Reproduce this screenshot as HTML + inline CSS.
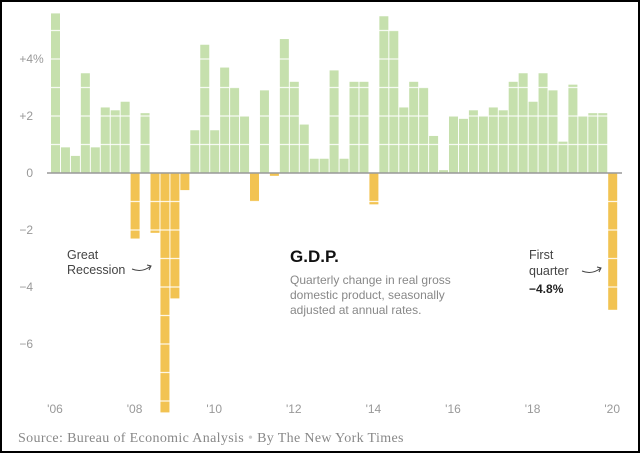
<!DOCTYPE html>
<html><head><meta charset="utf-8"><style>
html,body{margin:0;padding:0;background:#fff}
body{width:640px;height:453px;overflow:hidden}
#frame{position:absolute;left:0;top:0;width:636px;height:449px;border:2px solid #000;}
svg{position:absolute;left:0;top:0}
.t{font-family:"Liberation Sans",sans-serif}
</style></head><body>
<div id="frame"></div>
<svg id="chart" width="640" height="453"></svg>
<script>
const years = ["'06","'08","'10","'12","'14","'16","'18","'20"];
const yTicks = [4,2,0,-2,-4,-6];
const gdpValues = [5.6,0.9,0.6,3.5, 0.9,2.3,2.2,2.5, -2.3,2.1,-2.1,-8.4, -4.4,-0.6,1.5,4.5,
 1.5,3.7,3.0,2.0, -1.0,2.9,-0.1,4.7, 3.2,1.7,0.5,0.5, 3.6,0.5,3.2,3.2,
 -1.1,5.5,5.0,2.3, 3.2,3.0,1.3,0.1, 2.0,1.9,2.2,2.0, 2.3,2.2,3.2,3.5,
 2.5,3.5,2.9,1.1, 3.1,2.0,2.1,2.1, -4.8];
const NS="http://www.w3.org/2000/svg";
const svg=document.getElementById('chart');
const y0=173, pxPerUnit=28.5, x0=51, pitch=9.95, bw=9;
const yScale=v=>y0-v*pxPerUnit;
const xScale=i=>x0+i*pitch;
function mk(tag,attrs){const e=document.createElementNS(NS,tag);for(const k in attrs)e.setAttribute(k,attrs[k]);svg.appendChild(e);return e;}
gdpValues.forEach((v,i)=>{
  const top=Math.min(yScale(v),y0), h=Math.abs(yScale(v)-y0);
  const r=mk('rect',{x:xScale(i),y:top,width:bw,height:h,fill:v>=0?'#c6e0ad':'#f2c352'});
  
  
});
for(let g=-8;g<=5;g++){ if(g===0)continue;
  const l=mk('line',{x1:47,x2:622,y1:yScale(g),y2:yScale(g),stroke:'#fff','stroke-width':1.2,opacity:0.85});
  
  
}
const ax=mk('line',{x1:47,x2:622,y1:y0,y2:y0,stroke:'#999','stroke-width':1.5});


yTicks.forEach(v=>{
  const lab=(v>0?'+':(v<0?'\u2212':''))+Math.abs(v);
  const t=mk('text',{x:33,y:yScale(v)+4,'text-anchor':'end',class:'t','font-size':12,fill:'#999'});
  t.textContent=lab;
  if(v===4){const s=mk('text',{x:33,y:yScale(v)+4,class:'t','font-size':12,fill:'#999'});s.textContent='%';
    
    }
  
  
});
years.forEach((y,i)=>{
  const t=mk('text',{x:xScale(i*8)+4,y:413,'text-anchor':'middle',class:'t','font-size':12,fill:'#999'});
  t.textContent=y;
  
  
});
</script>
<svg width="640" height="453" style="position:absolute;left:0;top:0">
<g class="t" font-size="12.5" fill="#444">
<text x="67" y="259">Great</text>
<text x="67" y="274">Recession</text>
<path d="M132 269 Q142 273 151 266" fill="none" stroke="#444" stroke-width="1"/>
<path d="M147 265 L151 266 L149 270" fill="none" stroke="#444" stroke-width="1"/>
<text x="529" y="259">First</text>
<text x="529" y="275">quarter</text>
<path d="M582 271 Q592 275 601 268" fill="none" stroke="#444" stroke-width="1"/>
<path d="M597 267 L601 268 L599 272" fill="none" stroke="#444" stroke-width="1"/>
<text x="529" y="293" font-weight="bold" font-size="12" fill="#222">−4.8%</text>
<text x="290" y="262" font-weight="bold" font-size="17" fill="#111">G.D.P.</text>
<g fill="#888" font-size="12">
<text x="290" y="284">Quarterly change in real gross</text>
<text x="290" y="299">domestic product, seasonally</text>
<text x="290" y="314">adjusted at annual rates.</text>
</g>
</g>
<text x="18" y="442" font-family="Liberation Serif, serif" font-size="14" letter-spacing="0.35" fill="#888">Source: Bureau of Economic Analysis <tspan fill="#ccc">•</tspan> By The New York Times</text>
</svg>
</body></html>
